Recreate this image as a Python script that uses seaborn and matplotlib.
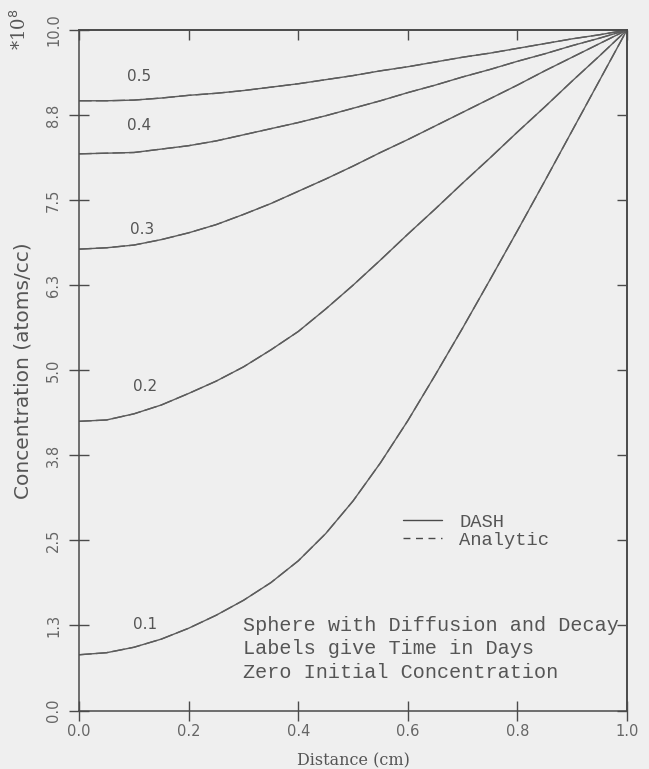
import matplotlib
matplotlib.use("Agg")
import matplotlib.pyplot as plt
from matplotlib.lines import Line2D
import pandas as pd
import seaborn as sns

# Radial distance (cm)
distance = [0.00, 0.05, 0.10, 0.15, 0.20, 0.25, 0.30, 0.35, 0.40, 0.45, 0.50,
            0.55, 0.60, 0.65, 0.70, 0.75, 0.80, 0.85, 0.90, 0.95, 1.00]

# Concentration (x1e8 atoms/cc) at each time (days)
conc_t01 = [0.82, 0.85, 0.93, 1.05, 1.21, 1.40, 1.62, 1.88, 2.20, 2.60, 3.08,
            3.64, 4.26, 4.93, 5.62, 6.33, 7.05, 7.78, 8.52, 9.26, 10.0]
conc_t02 = [4.25, 4.27, 4.36, 4.49, 4.66, 4.84, 5.05, 5.30, 5.57, 5.90, 6.25,
            6.62, 7.00, 7.37, 7.75, 8.12, 8.50, 8.87, 9.25, 9.62, 10.0]
conc_t03 = [6.78, 6.80, 6.84, 6.92, 7.02, 7.14, 7.29, 7.45, 7.63, 7.81, 8.00,
            8.20, 8.39, 8.59, 8.79, 8.99, 9.19, 9.40, 9.60, 9.80, 10.0]
conc_t04 = [8.18, 8.19, 8.20, 8.25, 8.30, 8.37, 8.46, 8.55, 8.64, 8.74, 8.85,
            8.96, 9.08, 9.19, 9.31, 9.42, 9.54, 9.65, 9.77, 9.88, 10.0]
conc_t05 = [8.96, 8.96, 8.97, 9.00, 9.04, 9.07, 9.11, 9.16, 9.21, 9.27, 9.33,
            9.40, 9.46, 9.53, 9.60, 9.66, 9.73, 9.80, 9.87, 9.93, 10.0]

times = ["0.1", "0.2", "0.3", "0.4", "0.5"]
series = [conc_t01, conc_t02, conc_t03, conc_t04, conc_t05]

# Curve label positions (distance, concentration)
label_x = [0.12, 0.12, 0.115, 0.11, 0.11]
label_y = [1.27, 4.76, 7.07, 8.59, 9.31]

x_ticks = [0.0, 0.2, 0.4, 0.6, 0.8, 1.0]
x_tick_labels = ["0.0", "0.2", "0.4", "0.6", "0.8", "1.0"]
y_ticks = [0.0, 1.25, 2.5, 3.75, 5.0, 6.25, 7.5, 8.75, 10.0]
y_tick_labels = ["0.0", "1.3", "2.5", "3.8", "5.0", "6.3", "7.5", "8.8", "10.0"]

df = pd.concat(
    [pd.DataFrame({"distance": distance, "conc": vals, "time": t})
     for t, vals in zip(times, series)],
    ignore_index=True,
)

sns.set_theme(style="ticks")
paper = "#efefef"
ink = "#4a4a4a"
curve = "#5c5c5c"
txt = "#555555"
plt.rcParams["font.family"] = ["DejaVu Sans"]

fig = plt.figure(figsize=(6.49, 7.69), dpi=100, facecolor=paper)
ax = fig.add_axes([0.122, 0.076, 0.844, 0.885])
ax.set_facecolor(paper)

# Numerical solution (solid) with analytic solution (dashed) overlaid
for t in times:
    sub = df[df["time"] == t]
    sns.lineplot(data=sub, x="distance", y="conc", ax=ax, color=curve,
                 lw=1.0, estimator=None, legend=False)
    sns.lineplot(data=sub, x="distance", y="conc", ax=ax, color=curve,
                 lw=1.0, linestyle=(0, (9, 3)), estimator=None, legend=False)

for t, lx, ly in zip(times, label_x, label_y):
    ax.text(lx, ly, t, ha="center", va="center", fontsize=11,
            color=txt, family="DejaVu Sans")

ax.set_xlim(0, 1)
ax.set_ylim(0, 10)
ax.set_xticks(x_ticks)
ax.set_xticklabels(x_tick_labels, fontsize=10.5, color="#666666")
ax.set_yticks(y_ticks)
ax.set_yticklabels(y_tick_labels, fontsize=10.5, color="#666666",
                   rotation=90, va="center")

for side in ["left", "right", "top", "bottom"]:
    ax.spines[side].set_color(ink)
    ax.spines[side].set_linewidth(1.1)

ax.tick_params(axis="both", which="major", direction="inout", length=14,
               width=1.0, color=ink)
ax.tick_params(axis="x", pad=3)
ax.tick_params(axis="y", pad=6)

# inward ticks along the top and right edges
top = ax.secondary_xaxis("top")
top.set_xticks(x_ticks)
top.tick_params(direction="in", length=7, width=1.0, color=ink,
                labeltop=False)
top.spines["top"].set_color(ink)
right = ax.secondary_yaxis("right")
right.set_yticks(y_ticks)
right.tick_params(direction="in", length=7, width=1.0, color=ink,
                  labelright=False)
right.spines["right"].set_color(ink)

ax.set_xlabel("Distance (cm)", fontsize=11.5, color=txt,
              family="DejaVu Serif", labelpad=9)
ax.set_ylabel("Concentration (atoms/cc)", fontsize=14.5, color=txt,
              labelpad=10)

fig.text(0.031, 0.962, r"*10$^8$", rotation=90, ha="center", va="center",
         fontsize=13, color=txt, family="DejaVu Serif")

handles = [Line2D([], [], color=ink, lw=1.0),
           Line2D([], [], color=ink, lw=1.0, linestyle=(0, (5, 4)))]
leg = ax.legend(handles, ["DASH", "Analytic"], loc="upper left",
                bbox_to_anchor=(0.56, 0.314), frameon=False,
                handlelength=2.1, handletextpad=0.9, labelspacing=0.05,
                prop={"family": "Liberation Mono", "size": 13.5})
for t in leg.get_texts():
    t.set_color(txt)

ax.text(0.299, 0.139,
        "Sphere with Diffusion and Decay\nLabels give Time in Days\nZero Initial Concentration",
        transform=ax.transAxes, ha="left", va="top", fontsize=14.5,
        color=txt, family="Liberation Mono", linespacing=1.3)

fig.savefig("out.png", dpi=100, facecolor=paper)
